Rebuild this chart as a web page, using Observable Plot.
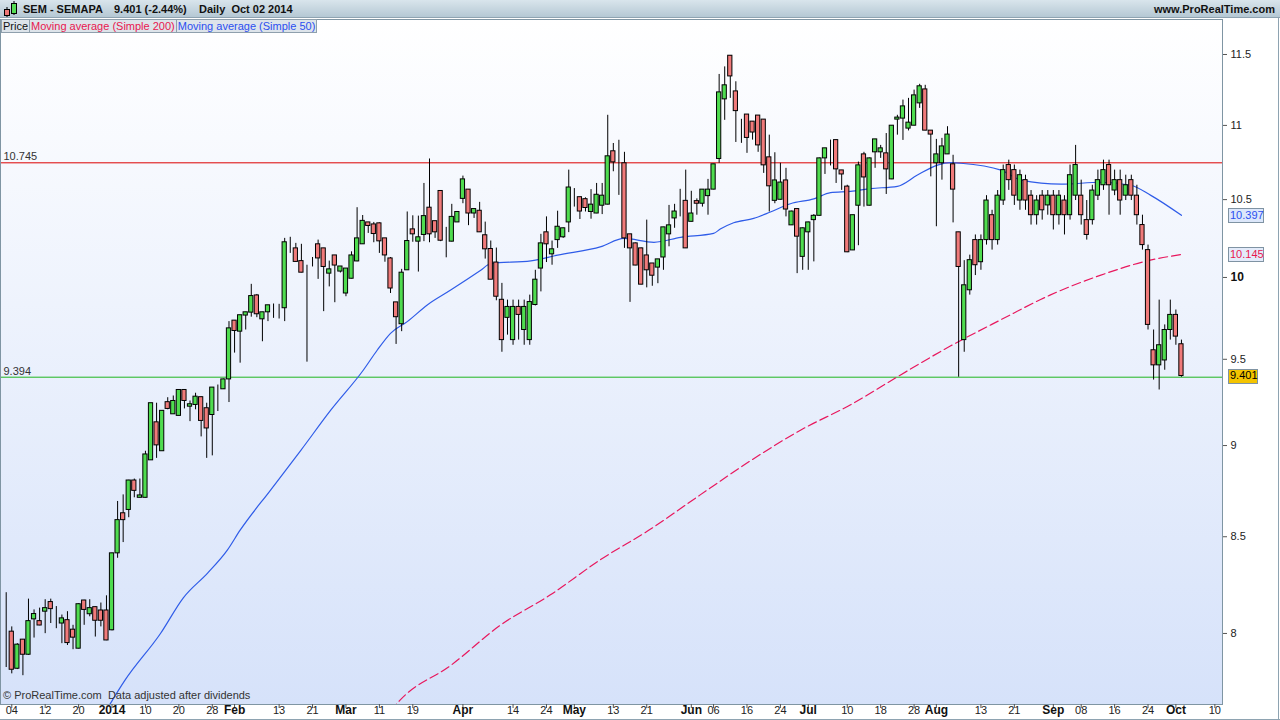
<!DOCTYPE html>
<html><head><meta charset="utf-8">
<script src="https://cdn.jsdelivr.net/npm/d3@7"></script>
<script src="https://cdn.jsdelivr.net/npm/@observablehq/plot@0.6"></script>
<style>
body{margin:0;background:#fff;font-family:"Liberation Sans",Arial,sans-serif;}
#wrap{position:relative;width:1280px;height:720px;overflow:hidden;}
#chart{position:absolute;left:0;top:0;}
#header{position:absolute;left:0;top:0;width:1280px;height:18px;background:linear-gradient(#d9e5ec,#b5c8d4);border-bottom:1px solid #8ea3b1;box-sizing:border-box;font-weight:bold;font-size:11px;color:#111;}
#header span{position:absolute;top:3px;white-space:pre;}
#legend{position:absolute;left:1px;top:19px;height:14px;display:flex;font-size:11px;}
#legend div{border:1px solid #8fa0ad;background:#dde4ea;padding:0 1px;line-height:13px;margin-right:-1px;white-space:nowrap;}
#foot{position:absolute;left:3px;top:689px;font-size:11px;color:#333;}
#rb{position:absolute;left:1278px;top:18px;width:1px;height:702px;background:#8ea3b1;}
#bb{position:absolute;left:0;top:719px;width:1280px;height:1px;background:#8ea3b1;}
</style></head><body>
<div id="wrap">
  <div id="chart"></div>
  <div id="header">
    <svg width="18" height="18" style="position:absolute;left:2px;top:0">
      <line x1="5" y1="7" x2="5" y2="17" stroke="#000"/><rect x="2.5" y="9.5" width="5" height="6" fill="#ee7777" stroke="#000"/>
      <line x1="12" y1="1" x2="12" y2="15" stroke="#000"/><rect x="9.5" y="3.5" width="5" height="10" fill="#55dd55" stroke="#000"/>
    </svg>
    <span style="left:23px">SEM - SEMAPA</span>
    <span style="left:114px">9.401 (-2.44%)</span>
    <span style="left:199px">Daily  Oct 02 2014</span>
    <span style="right:5px">www.ProRealTime.com</span>
  </div>
  <div id="legend">
    <div style="color:#111">Price</div>
    <div style="color:#e8174f">Moving average (Simple 200)</div>
    <div style="color:#2b4ff0">Moving average (Simple 50)</div>
  </div>
  <div id="foot">© ProRealTime.com&nbsp; Data adjusted after dividends</div>
  <div id="rb"></div><div id="bb"></div>
</div>
<script>
// ---- data (SEMAPA daily, Dec 3 2013 – Oct 2 2014) ----
const startDate = "2013-12-03";
const holidays = ["2013-12-25","2013-12-26","2014-01-01","2014-04-18","2014-04-21","2014-05-01"];

const open = [
8.016,8.009,7.825,7.969,7.894,8.071,8.062,8.110,8.159,8.027,
8.050,8.067,8.019,7.924,8.167,8.097,8.133,8.116,8.116,8.016,
8.412,8.626,8.644,8.805,8.710,8.710,8.917,9.132,8.968,9.248,
9.178,9.169,9.319,9.222,9.232,9.277,9.213,9.174,9.304,9.323,
9.381,9.733,9.666,9.764,9.782,9.888,9.741,9.784,9.784,9.833,
9.809,10.178,10.184,10.103,10.032,10.094,10.210,10.184,10.024,10.139,
10.037,9.900,9.992,10.101,10.210,10.351,10.338,10.345,10.248,10.120,
9.845,9.711,10.045,10.306,10.227,10.270,10.447,10.359,10.557,10.270,
10.227,10.351,10.505,10.566,10.409,10.427,10.268,10.180,10.094,9.861,
9.750,9.615,9.817,9.676,9.615,9.829,10.056,10.287,10.146,10.237,
10.255,10.351,10.539,10.516,10.503,10.419,10.409,10.460,10.467,10.823,
10.752,10.742,10.274,10.216,10.184,10.139,10.088,10.062,10.126,10.274,
10.377,10.458,10.492,10.355,10.490,10.473,10.523,10.566,10.771,11.181,
11.491,11.237,10.944,11.075,11.026,11.068,11.040,10.782,10.492,10.499,
10.627,10.332,10.438,10.130,10.287,10.366,10.394,10.775,10.858,10.899,
10.694,10.586,10.171,10.460,10.802,10.460,10.816,10.816,10.809,10.634,
11.040,11.047,10.978,10.998,11.153,11.251,10.964,10.742,10.742,10.802,
10.735,10.287,9.615,9.920,10.237,10.096,10.237,10.398,10.237,10.494,
10.730,10.696,10.494,10.629,10.526,10.398,10.526,10.462,10.526,10.398,
10.494,10.398,10.526,10.526,10.366,10.366,10.526,10.595,10.730,10.560,
10.629,10.526,10.629,10.526,10.334,10.173,9.554,9.464,9.493,9.676,
9.768,9.590];
const high = [
8.207,8.033,7.949,7.970,8.174,8.119,8.128,8.171,8.174,8.136,
8.093,8.110,8.041,8.150,8.168,8.171,8.134,8.154,8.191,8.413,
8.690,8.726,8.806,8.813,8.813,8.968,9.242,9.242,9.198,9.274,
9.284,9.319,9.319,9.255,9.300,9.278,9.242,9.333,9.348,9.383,
9.727,9.733,9.766,9.784,9.957,9.894,9.784,9.827,9.835,9.833,
10.248,10.255,10.216,10.210,10.077,10.126,10.237,10.184,10.103,10.139,
10.069,10.056,10.162,10.447,10.396,10.351,10.351,10.348,10.248,10.126,
9.845,10.051,10.419,10.394,10.392,10.607,10.771,10.359,10.557,10.319,
10.469,10.419,10.656,10.566,10.440,10.482,10.353,10.231,10.186,9.963,
9.859,9.859,9.859,9.859,9.890,10.045,10.274,10.387,10.231,10.424,
10.315,10.696,10.573,10.516,10.512,10.566,10.607,10.607,11.070,10.876,
10.898,10.816,10.274,10.218,10.186,10.366,10.088,10.114,10.319,10.462,
10.469,10.568,10.696,10.555,10.505,10.566,10.634,10.735,11.357,11.411,
11.491,11.305,11.042,11.075,11.026,11.068,11.040,10.933,10.813,10.742,
10.708,10.424,10.440,10.315,10.353,10.402,10.777,10.843,10.899,10.899,
10.694,10.595,10.398,10.750,10.816,10.777,10.904,10.863,10.944,10.998,
11.070,11.176,11.188,11.246,11.287,11.280,10.964,10.904,10.911,10.991,
10.796,10.287,10.106,10.141,10.270,10.270,10.526,10.430,10.560,10.730,
10.763,10.730,10.696,10.662,10.560,10.526,10.560,10.560,10.560,10.560,
10.526,10.730,10.863,10.629,10.494,10.595,10.696,10.763,10.763,10.696,
10.696,10.662,10.662,10.595,10.398,10.205,9.676,9.859,9.707,9.859,
9.798,9.615];
const low = [
7.831,7.800,7.821,7.791,7.891,7.977,8.039,7.999,8.050,8.024,
7.949,7.940,7.919,7.923,8.041,8.084,7.982,8.033,7.964,8.013,
8.386,8.469,8.602,8.710,8.709,8.709,8.916,8.928,8.968,9.204,
9.177,9.169,9.209,9.136,9.204,9.049,8.928,8.942,9.194,9.322,
9.246,9.537,9.477,9.676,9.754,9.751,9.605,9.727,9.747,9.743,
9.727,10.152,10.098,10.029,9.483,10.066,9.988,9.788,9.941,9.843,
10.028,9.880,9.991,10.099,10.209,10.280,10.220,10.152,10.096,9.900,
9.589,9.666,10.044,10.223,10.034,10.227,10.220,10.248,10.227,10.124,
10.225,10.351,10.473,10.330,10.377,10.286,10.116,9.985,9.855,9.542,
9.645,9.584,9.615,9.584,9.584,9.823,9.910,10.094,10.077,10.184,
10.248,10.285,10.451,10.370,10.419,10.372,10.408,10.402,10.465,10.685,
10.528,10.184,9.845,10.074,9.954,9.935,9.945,9.961,10.045,10.194,
10.313,10.387,10.183,10.354,10.398,10.451,10.398,10.565,10.742,11.035,
11.188,10.883,10.877,10.809,10.899,10.816,10.674,10.419,10.473,10.497,
10.387,10.331,10.024,10.045,10.045,10.098,10.393,10.667,10.724,10.607,
10.561,10.157,10.170,10.201,10.451,10.459,10.708,10.775,10.534,10.632,
10.933,10.897,10.962,10.997,11.118,10.963,10.651,10.323,10.629,10.801,
10.348,9.394,9.542,9.890,10.012,10.045,10.205,10.173,10.205,10.462,
10.561,10.462,10.430,10.430,10.334,10.334,10.366,10.398,10.302,10.334,
10.270,10.366,10.494,10.334,10.237,10.334,10.494,10.561,10.398,10.526,
10.398,10.494,10.494,10.334,10.173,9.676,9.377,9.319,9.435,9.615,
9.584,9.394];
const close = [
8.016,7.820,7.944,7.894,8.062,8.098,8.040,8.128,8.123,8.027,
8.076,7.952,7.979,8.148,8.119,8.128,8.064,8.064,7.965,8.412,
8.589,8.589,8.805,8.748,8.723,8.950,9.242,9.001,9.198,9.209,
9.255,9.319,9.255,9.236,9.280,9.140,9.097,9.333,9.304,9.381,
9.686,9.670,9.766,9.784,9.884,9.772,9.784,9.827,9.784,9.833,
10.223,10.178,10.098,10.030,10.032,10.094,10.120,10.066,10.051,10.075,
10.069,10.056,10.139,10.248,10.361,10.328,10.276,10.229,10.139,9.931,
9.754,10.030,10.231,10.274,10.255,10.392,10.274,10.287,10.233,10.270,
10.387,10.419,10.634,10.409,10.438,10.287,10.178,9.986,9.880,9.615,
9.817,9.817,9.768,9.817,9.847,9.986,10.216,10.210,10.178,10.323,
10.313,10.580,10.539,10.422,10.445,10.467,10.532,10.526,10.789,10.748,
10.752,10.248,10.184,10.075,9.955,10.045,10.011,10.114,10.319,10.332,
10.422,10.458,10.184,10.409,10.473,10.566,10.566,10.735,11.230,11.280,
11.343,11.099,10.944,10.914,10.951,10.863,10.728,10.588,10.627,10.613,
10.435,10.422,10.259,10.313,10.351,10.394,10.775,10.843,10.858,10.701,
10.667,10.159,10.398,10.728,10.647,10.775,10.904,10.843,10.701,10.998,
11.054,11.132,11.019,11.209,11.273,10.964,10.937,10.802,10.856,10.937,
10.566,10.066,9.951,10.109,10.077,10.237,10.494,10.237,10.526,10.696,
10.629,10.526,10.662,10.494,10.398,10.494,10.430,10.526,10.398,10.526,
10.398,10.662,10.730,10.398,10.270,10.560,10.629,10.696,10.595,10.629,
10.494,10.595,10.526,10.398,10.205,9.707,9.464,9.584,9.676,9.768,
9.636,9.401];

// moving averages (candle number, value)
const ma50Idx = [18,22.3,28.7,32.8,37.2,40.7,43.0,48.5,53.9,59.3,65.1,67.6,70.0,73.0,76.6,80.8,86.2,88.0,95.2,100.0,107.8,111.9,117.3,122.1,128.0,129.2,131.6,135.2,138.2,141.8,146.0,149.0,152.6,156.2,161.0,164.6,168.2,170.6,172.4,179.6,183.2,190.4,197.5,202.9,206.5,212];
const ma50Val = [7.58,7.768,8.0,8.181,8.310,8.429,8.535,8.754,8.973,9.203,9.435,9.554,9.656,9.727,9.829,9.921,10.045,10.088,10.105,10.141,10.195,10.248,10.223,10.255,10.280,10.308,10.349,10.377,10.419,10.473,10.505,10.546,10.555,10.573,10.588,10.663,10.730,10.746,10.742,10.696,10.629,10.602,10.615,10.595,10.528,10.397];
const ma200Idx = [70.0,71.8,80.8,89.7,98.7,107.7,116.7,125.6,134.6,143.6,152.6,161.5,170.5,179.5,188.4,197.4,206.4,212];
const ma200Val = [7.62,7.675,7.841,8.041,8.196,8.379,8.541,8.726,8.914,9.087,9.233,9.406,9.579,9.737,9.890,10.013,10.109,10.145];

const levels = [10.745, 9.394];
const levelColors = ["#dd0000", "#1fb51f"];
const yTicks = [8, 8.5, 9, 9.5, 10, 10.5, 11, 11.5];
const yBold = [10];
const xTickDates = ["2013-12-04","2013-12-12","2013-12-20","2014-01-02","2014-01-10","2014-01-20","2014-01-28","2014-02-03","2014-02-13","2014-02-21","2014-03-03","2014-03-11","2014-03-19","2014-04-01","2014-04-14","2014-04-24","2014-05-02","2014-05-13","2014-05-21","2014-06-02","2014-06-06","2014-06-16","2014-06-24","2014-07-01","2014-07-10","2014-07-18","2014-07-28","2014-08-01","2014-08-13","2014-08-21","2014-09-01","2014-09-08","2014-09-16","2014-09-24","2014-10-01","2014-10-10"];
const xTickLabels = ["04","12","20","2014","10","20","28","Feb","13","21","Mar","11","19","Apr","14","24","May","13","21","Jun","06","16","24","Jul","10","18","28","Aug","13","21","Sep","08","16","24","Oct","10"];
const xBold = ["2014","Feb","Mar","Apr","May","Jun","Jul","Aug","Sep","Oct"];
const badges = [
  {value: 10.397, text: "10.397", color: "#2b4ff0", fill: "#dce7fa"},
  {value: 10.145, text: "10.145", color: "#e8174f", fill: "#e3ebfa"},
  {value: 9.401, text: "9.401", color: "#000", fill: "#f4c400"}
];

// ---- trading calendar ----
const dayIndex = new Map();
{
  let d = new Date(startDate + "T00:00:00Z"), i = 1;
  while (i <= 225) {
    const s = d.toISOString().slice(0, 10);
    const wd = d.getUTCDay();
    if (wd !== 0 && wd !== 6 && !holidays.includes(s)) { dayIndex.set(s, i); i++; }
    d = new Date(d.getTime() + 86400000);
  }
}
const candles = open.map((o, k) => ({i: k + 1, open: o, high: high[k], low: low[k], close: close[k]}));
const xt = xTickDates.map((s, k) => ({i: dayIndex.get(s), label: xTickLabels[k]}));
const ma50 = ma50Idx.map((x, k) => ({i: x, v: ma50Val[k]}));
const ma200 = ma200Idx.map((x, k) => ({i: x, v: ma200Val[k]}));

const GREEN = "#4fdc4f", RED = "#f07a7a";

const defs = () => {
  const g = d3.create("svg:defs");
  const lg = g.append("linearGradient").attr("id", "bggrad").attr("x1", 0).attr("x2", 0).attr("y1", 0).attr("y2", 1);
  lg.append("stop").attr("offset", "0%").attr("stop-color", "#ffffff");
  lg.append("stop").attr("offset", "100%").attr("stop-color", "#d6e2fa");
  return g.node();
};

const badgeMark = (index, scales, values, dims) => {
  const g = d3.create("svg:g").attr("font-size", 11).attr("text-anchor", "start");
  const x0 = dims.width - dims.marginRight + 6;
  for (const b of badges) {
    const y = scales.y(b.value);
    const w = Math.round(b.text.length * 5.8);
    g.append("rect").attr("x", x0 + 0.5).attr("y", Math.round(y - 7) + 0.5).attr("width", w).attr("height", 14)
      .attr("fill", b.fill).attr("stroke", "#7f93a3");
    g.append("text").attr("x", x0 + 2).attr("y", y).attr("dy", "0.35em").attr("text-anchor", "start").attr("fill", b.color).text(b.text);
  }
  return g.node();
};

const chart = Plot.plot({
  width: 1280, height: 720,
  marginTop: 19, marginBottom: 16, marginLeft: 0, marginRight: 58,
  style: {background: "transparent", fontFamily: "'Liberation Sans', Arial, sans-serif", fontSize: "11px", color: "#222"},
  x: {type: "linear", domain: [-0.023, 219.37], axis: null},
  y: {type: "log", domain: [7.6516, 11.755], axis: null},
  color: {type: "identity"},
  marks: [
    defs,
    Plot.frame({fill: "url(#bggrad)", stroke: "none"}),
    Plot.ruleY(levels, {y: d => d, stroke: (d, k) => levelColors[k], strokeWidth: 1}),
    Plot.text(levels, {y: d => d, text: d => String(d), frameAnchor: "left", dx: 3, dy: -6, textAnchor: "start", fill: "#333", fontSize: 11}),
    Plot.line(ma200, {x: "i", y: "v", stroke: "#e8175d", strokeWidth: 1.2, strokeDasharray: "9,4", curve: "monotone-x", clip: true}),
    Plot.line(ma50, {x: "i", y: "v", stroke: "#2f5ce8", strokeWidth: 1.2, curve: "monotone-x", clip: true}),
    Plot.ruleX(candles, {x: "i", y1: "low", y2: "high", stroke: "#000", strokeWidth: 1}),
    Plot.rect(candles, {x1: d => d.i - 0.38, x2: d => d.i + 0.38, y1: "open", y2: "close",
      fill: d => d.close > d.open ? GREEN : (d.close < d.open ? RED : "#000"), stroke: "#000", strokeWidth: 1}),
    Plot.frame({stroke: "#7f95a3"}),
    Plot.axisY({anchor: "right", ticks: yTicks, tickSize: 4, tickFormat: () => "", label: null, stroke: "#555"}),
    Plot.text(yTicks.filter(t => !yBold.includes(t)), {y: d => d, text: d => String(d), frameAnchor: "right", dx: 8, textAnchor: "start", fill: "#222", fontSize: 11}),
    Plot.text(yBold, {y: d => d, text: d => String(d), frameAnchor: "right", dx: 8, textAnchor: "start", fill: "#111", fontSize: 12, fontWeight: "bold"}),
    Plot.axisX({anchor: "bottom", ticks: xt.map(d => d.i), tickSize: 4, tickFormat: () => "", label: null, stroke: "#555"}),
    Plot.text(xt.filter(d => !xBold.includes(d.label)), {x: "i", text: "label", frameAnchor: "bottom", dy: 9, fill: "#222", fontSize: 11}),
    Plot.text(xt.filter(d => xBold.includes(d.label)), {x: "i", text: "label", frameAnchor: "bottom", dy: 9, fill: "#111", fontSize: 12, fontWeight: "bold"}),
    badgeMark
  ]
});
document.getElementById("chart").appendChild(chart);
</script>
</body></html>
